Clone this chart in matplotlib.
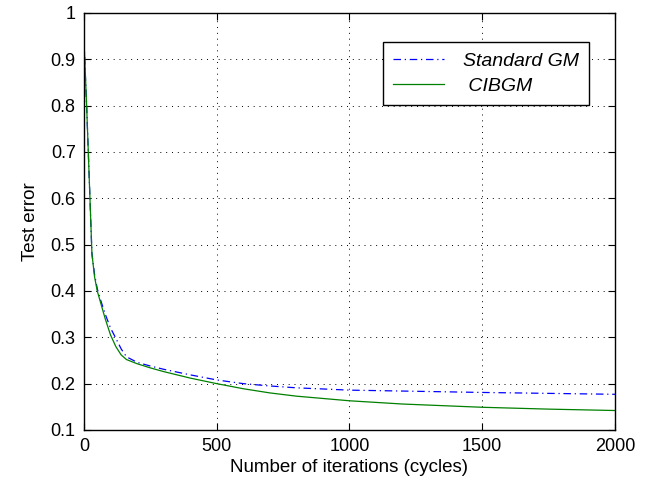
import matplotlib
matplotlib.use("Agg")
import matplotlib.pyplot as plt

# iteraciones y error de prueba
iter_gm = [0, 5, 10, 15, 20, 25, 30, 40, 50, 60, 80, 100, 120, 140, 160, 200, 250, 300,
           400, 500, 600, 700, 800, 1000, 1200, 1500, 1750, 2000]
err_gm = [0.94, 0.87, 0.80, 0.72, 0.64, 0.56, 0.48, 0.435, 0.405, 0.385, 0.35, 0.32, 0.298,
          0.275, 0.258, 0.246, 0.238, 0.231, 0.219, 0.208, 0.200, 0.195, 0.191, 0.186,
          0.184, 0.181, 0.179, 0.177]

iter_cib = [0, 5, 10, 15, 20, 25, 30, 40, 50, 60, 80, 100, 120, 140, 160, 200, 250, 300,
            400, 500, 600, 700, 800, 1000, 1200, 1500, 1750, 2000]
err_cib = [0.94, 0.87, 0.80, 0.72, 0.64, 0.56, 0.48, 0.43, 0.40, 0.38, 0.34, 0.305, 0.28,
           0.262, 0.252, 0.243, 0.234, 0.226, 0.212, 0.200, 0.189, 0.180, 0.173, 0.163,
           0.156, 0.149, 0.145, 0.142]

x_ticks = [0, 500, 1000, 1500, 2000]
y_ticks = [0.1, 0.2, 0.3, 0.4, 0.5, 0.6, 0.7, 0.8, 0.9, 1]
y_labels = ["0.1", "0.2", "0.3", "0.4", "0.5", "0.6", "0.7", "0.8", "0.9", "1"]

plt.rcParams['font.family'] = ['Liberation Sans', 'DejaVu Sans']

fig = plt.figure(figsize=(6.48, 4.88), dpi=100)
ax = fig.add_axes([0.1296, 0.1189, 0.8194, 0.8545])

ax.plot(iter_gm, err_gm, color=(0, 0, 1), linestyle=(0, (6, 3, 1, 3)), lw=0.9,
        label='Standard GM')
ax.plot(iter_cib, err_cib, color=(0, 0.5, 0), linestyle='-', lw=0.9, label=' CIBGM')

ax.set_xlim(0, 2000)
ax.set_ylim(0.1, 1)
ax.set_xticks(x_ticks)
ax.set_yticks(y_ticks)
ax.set_yticklabels(y_labels)
ax.tick_params(direction='in', top=True, right=True, labelsize=13, length=5, pad=6)
ax.grid(True, color='black', linestyle=(0, (1, 5)), lw=0.7)
for s in ax.spines.values():
    s.set_linewidth(1.0)

ax.set_xlabel('Number of iterations (cycles)', fontsize=13.5, labelpad=3)
ax.set_ylabel('Test error', fontsize=13.5, labelpad=8)

leg = ax.legend(loc='upper right', bbox_to_anchor=(0.951, 0.930), borderaxespad=0,
                fancybox=False, framealpha=1, edgecolor='black',
                prop={'style': 'italic', 'size': 14}, handlelength=2.6,
                handletextpad=1.0, borderpad=0.5, labelspacing=0.4)
leg.get_frame().set_linewidth(1.0)

fig.savefig('out.png', dpi=100)
